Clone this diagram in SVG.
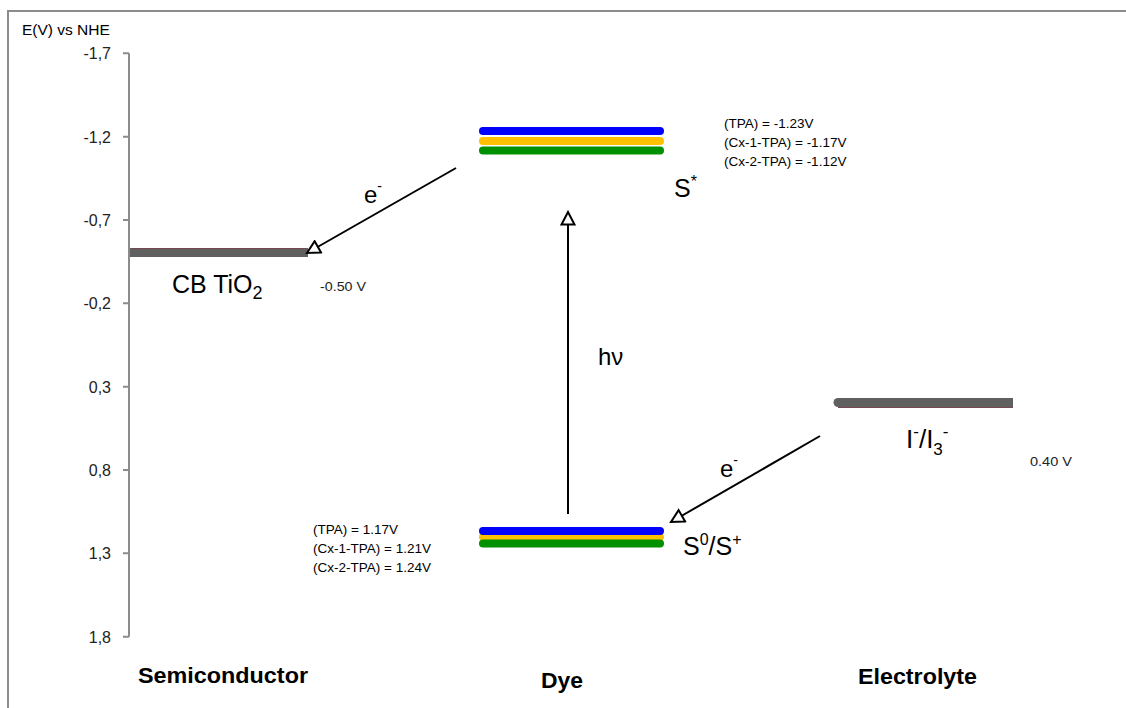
<svg xmlns="http://www.w3.org/2000/svg" width="1126" height="708" viewBox="0 0 1126 708">
<style>
.t{font-family:"Liberation Sans",Arial,sans-serif;fill:#000}
.ax{font-size:16px;text-anchor:end;fill:#222}
.sm{font-size:13px;fill:#222}
.big{font-size:25px}
.cat{font-size:22px;font-weight:bold}
.frame{stroke:#8c8c8c;stroke-width:2;fill:none}
.axis{stroke:#8c8c8c;stroke-width:2;fill:none}
.bar{stroke-width:8;stroke-linecap:round;fill:none}
.conn{stroke:#000;stroke-width:2;fill:none;marker-end:url(#open)}
</style>
<defs>
<marker id="open" viewBox="0 0 16 16" refX="14" refY="8" markerWidth="16" markerHeight="16" markerUnits="userSpaceOnUse" orient="auto">
<path d="M1.5,1.5 L14,8 L1.5,14.5 Z" fill="#fff" stroke="#000" stroke-width="2"/>
</marker>
</defs>
<rect width="1126" height="708" fill="#fff"/>
<path class="frame" d="M8,708 V11 H1126"/>
<g id="axis">
<path class="axis" d="M129,53.3 V636.7"/>
<path class="axis" d="M123,53.3 H129 M123,136.7 H129 M123,220 H129 M123,303.3 H129 M123,386.7 H129 M123,470 H129 M123,553.3 H129 M123,636.7 H129"/>
<text class="t ax" x="111" y="59">-1,7</text>
<text class="t ax" x="111" y="142.5">-1,2</text>
<text class="t ax" x="111" y="225.5">-0,7</text>
<text class="t ax" x="111" y="309">-0,2</text>
<text class="t ax" x="111" y="392.5">0,3</text>
<text class="t ax" x="111" y="475.5">0,8</text>
<text class="t ax" x="111" y="559">1,3</text>
<text class="t ax" x="111" y="642.5">1,8</text>
<text class="t" x="22" y="35" font-size="15.5" fill="#222">E(V) vs NHE</text>
</g>
<g id="semiconductor">
<line x1="130" y1="252.5" x2="308" y2="252.5" stroke="#606060" stroke-width="9"/>
<line x1="132" y1="248.5" x2="306" y2="248.5" stroke="#8a3a4a" stroke-width="1" opacity="0.6"/>
<text class="t big" x="172" y="293">CB TiO<tspan font-size="18" dy="6">2</tspan></text>
<text class="t sm" x="320" y="291" textLength="46" lengthAdjust="spacingAndGlyphs">-0.50 V</text>
<text class="t cat" x="138" y="683" textLength="170" lengthAdjust="spacingAndGlyphs">Semiconductor</text>
</g>
<g id="dye-excited">
<line class="bar" x1="483" y1="131" x2="660" y2="131" stroke="#0000ff"/>
<line class="bar" x1="483" y1="141" x2="660" y2="141" stroke="#ffc000"/>
<line class="bar" x1="483" y1="150.5" x2="660" y2="150.5" stroke="#009000" stroke-width="9"/>
<text class="t" x="674" y="197" font-size="25">S<tspan font-size="16" dy="-10">*</tspan></text>
<text class="t" font-size="13.5" fill="#222"><tspan x="724" y="128">(TPA) = -1.23V</tspan><tspan x="724" y="147">(Cx-1-TPA) = -1.17V</tspan><tspan x="724" y="166">(Cx-2-TPA) = -1.12V</tspan></text>
</g>
<g id="dye-ground">
<line class="bar" x1="483" y1="537" x2="660" y2="537" stroke="#ffc000" stroke-width="6"/>
<line class="bar" x1="483" y1="531" x2="660" y2="531" stroke="#0000ff"/>
<line class="bar" x1="483" y1="543.5" x2="660" y2="543.5" stroke="#009000" stroke-width="9"/>
<text class="t" x="683" y="555" font-size="25">S<tspan font-size="16" dy="-10">0</tspan><tspan dy="10">/S</tspan><tspan font-size="16" dy="-10">+</tspan></text>
<text class="t" font-size="13.5" fill="#222"><tspan x="313" y="534">(TPA) = 1.17V</tspan><tspan x="313" y="553">(Cx-1-TPA) = 1.21V</tspan><tspan x="313" y="572">(Cx-2-TPA) = 1.24V</tspan></text>
<text class="t cat" x="541" y="688" textLength="42" lengthAdjust="spacingAndGlyphs">Dye</text>
</g>
<g id="electrolyte">
<line x1="838" y1="403" x2="1013" y2="403" stroke="#606060" stroke-width="10"/>
<circle cx="838" cy="402.5" r="4.5" fill="#606060"/>
<line x1="838" y1="407.5" x2="1013" y2="407.5" stroke="#8a3a4a" stroke-width="1" opacity="0.6"/>
<text class="t" x="906" y="448" font-size="26">I<tspan font-size="17" dy="-11">-</tspan><tspan dy="11">/I</tspan><tspan font-size="17" dy="7">3</tspan><tspan font-size="17" dy="-18">-</tspan></text>
<text class="t sm" x="1030" y="466" textLength="42" lengthAdjust="spacingAndGlyphs">0.40 V</text>
<text class="t cat" x="858" y="684" textLength="119" lengthAdjust="spacingAndGlyphs">Electrolyte</text>
</g>
<g id="connectors">
<line class="conn" x1="456" y1="168" x2="307" y2="253"/>
<line class="conn" x1="568" y1="514" x2="568" y2="212"/>
<line class="conn" x1="820" y1="436" x2="671" y2="522"/>
<text class="t" x="364" y="203" font-size="24">e<tspan font-size="14" dy="-12">-</tspan></text>
<text class="t" x="598" y="365" font-size="24">hν</text>
<text class="t" x="720" y="477" font-size="24">e<tspan font-size="14" dy="-12">-</tspan></text>
</g>
</svg>
